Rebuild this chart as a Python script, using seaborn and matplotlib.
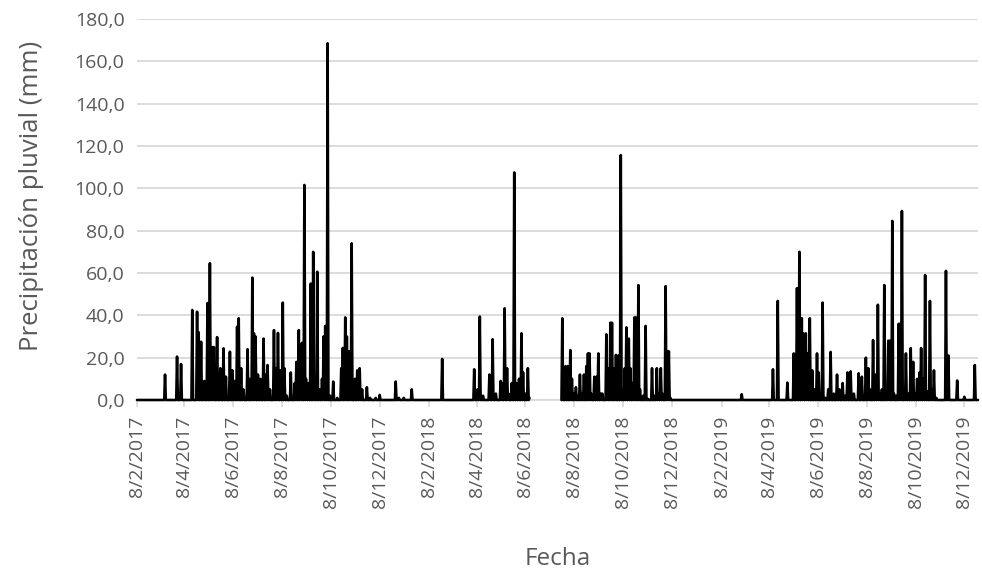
import numpy as np
import pandas as pd
import matplotlib
matplotlib.use("Agg")
import matplotlib.pyplot as plt
import matplotlib.dates as mdates
from matplotlib.ticker import FuncFormatter
import seaborn as sns

# ---------------- data ----------------
start_date = "2017-02-08"
end_date = "2019-12-25"
# period without records
gap_start = "2018-06-14"
gap_end = "2018-07-22"

rain_dates_2017 = [
    "2017-03-15", "2017-03-30", "2017-04-04", "2017-04-18", "2017-04-24", "2017-04-26",
    "2017-04-29", "2017-05-03", "2017-05-07", "2017-05-10", "2017-05-13", "2017-05-15",
    "2017-05-19", "2017-05-23", "2017-05-27", "2017-05-30", "2017-06-04", "2017-06-07",
    "2017-06-10", "2017-06-13", "2017-06-15", "2017-06-18", "2017-06-21", "2017-06-26",
    "2017-06-28", "2017-07-02", "2017-07-04", "2017-07-06", "2017-07-09", "2017-07-12",
    "2017-07-16", "2017-07-19", "2017-07-21", "2017-07-24", "2017-07-29", "2017-08-01",
    "2017-08-03", "2017-08-06", "2017-08-09", "2017-08-11", "2017-08-14", "2017-08-19",
    "2017-08-24", "2017-08-26", "2017-08-29", "2017-08-31", "2017-09-02", "2017-09-05",
    "2017-09-07", "2017-09-10", "2017-09-13", "2017-09-16", "2017-09-18", "2017-09-21",
    "2017-09-24", "2017-09-27", "2017-09-29", "2017-10-01", "2017-10-04", "2017-10-07",
    "2017-10-11", "2017-10-16", "2017-10-21", "2017-10-23", "2017-10-26", "2017-10-28",
    "2017-10-31", "2017-11-03", "2017-11-07", "2017-11-10", "2017-11-13", "2017-11-16",
    "2017-11-22", "2017-11-26", "2017-12-03", "2017-12-08", "2017-12-28",
]
rain_values_2017 = [
    12.0, 20.5, 17.0, 42.5, 41.7, 32.0,
    27.5, 9.0, 45.8, 64.6, 25.0, 25.0,
    29.7, 15.0, 24.4, 11.0, 22.8, 14.0,
    9.0, 34.6, 38.6, 15.0, 5.0, 24.0,
    10.0, 57.8, 31.5, 30.0, 12.0, 10.0,
    29.0, 12.0, 16.5, 5.0, 33.0, 15.0,
    31.7, 14.0, 46.0, 15.0, 2.0, 13.0,
    8.0, 18.0, 33.0, 25.0, 27.0, 101.6,
    10.0, 8.0, 55.0, 70.0, 10.0, 60.6,
    5.0, 10.0, 30.0, 35.0, 168.5, 2.0,
    8.7, 1.0, 15.0, 24.6, 39.0, 30.0,
    23.0, 74.0, 10.0, 14.0, 15.0, 5.0,
    6.0, 1.0, 1.0, 2.4, 8.7,
]

rain_dates_2018 = [
    "2018-01-01", "2018-01-07", "2018-01-17", "2018-02-24",
    "2018-04-05", "2018-04-09", "2018-04-12", "2018-04-16", "2018-04-24", "2018-04-28",
    "2018-05-02", "2018-05-08", "2018-05-10", "2018-05-13", "2018-05-16", "2018-05-18",
    "2018-05-22", "2018-05-25", "2018-05-28", "2018-05-31", "2018-06-03", "2018-06-05",
    "2018-06-08", "2018-06-11", "2018-06-13",
    "2018-07-24", "2018-07-28", "2018-07-31", "2018-08-03", "2018-08-05", "2018-08-08",
    "2018-08-10", "2018-08-13", "2018-08-15", "2018-08-18", "2018-08-20", "2018-08-23",
    "2018-08-25", "2018-08-27", "2018-08-29", "2018-09-02", "2018-09-05", "2018-09-07",
    "2018-09-10", "2018-09-12", "2018-09-17", "2018-09-19", "2018-09-22", "2018-09-24",
    "2018-09-27", "2018-09-29", "2018-10-02", "2018-10-05", "2018-10-07", "2018-10-10",
    "2018-10-12", "2018-10-15", "2018-10-17", "2018-10-20", "2018-10-22", "2018-10-24",
    "2018-10-27", "2018-10-29", "2018-11-02", "2018-11-05", "2018-11-08", "2018-11-13",
    "2018-11-16", "2018-11-19", "2018-11-21", "2018-11-24", "2018-11-26", "2018-11-30",
    "2018-12-02", "2018-12-04", "2018-12-06",
]
rain_values_2018 = [
    1.0, 1.0, 5.0, 19.4,
    14.5, 5.0, 39.4, 2.0, 12.0, 28.7,
    3.0, 9.0, 8.0, 43.3, 15.0, 3.0,
    8.0, 107.5, 8.0, 10.0, 31.5, 13.0,
    3.0, 15.0, 1.0,
    38.6, 16.0, 16.0, 23.6, 10.0, 3.0,
    6.0, 2.0, 12.0, 3.0, 12.0, 16.0,
    22.0, 22.0, 3.0, 11.0, 11.0, 22.0,
    3.0, 3.0, 31.0, 15.0, 36.5, 36.5,
    15.0, 21.3, 21.0, 115.7, 5.0, 15.0,
    34.3, 29.0, 15.0, 8.0, 39.0, 39.0,
    54.3, 5.0, 2.0, 35.0, 0.5, 15.0,
    2.0, 15.0, 3.0, 15.0, 3.0, 53.8,
    23.0, 23.0, 1.0,
]

rain_dates_2019 = [
    "2019-03-05", "2019-04-13", "2019-04-19", "2019-05-01", "2019-05-09", "2019-05-13",
    "2019-05-16", "2019-05-19", "2019-05-21", "2019-05-24", "2019-05-26", "2019-05-29",
    "2019-06-01", "2019-06-04", "2019-06-07", "2019-06-09", "2019-06-14", "2019-06-17",
    "2019-06-21", "2019-06-24", "2019-06-28", "2019-07-02", "2019-07-05", "2019-07-09",
    "2019-07-12", "2019-07-15", "2019-07-19", "2019-07-23", "2019-07-29", "2019-08-02",
    "2019-08-07", "2019-08-10", "2019-08-12", "2019-08-16", "2019-08-19", "2019-08-22",
    "2019-08-24", "2019-08-27", "2019-08-30", "2019-09-02", "2019-09-04", "2019-09-06",
    "2019-09-09", "2019-09-11", "2019-09-14", "2019-09-17", "2019-09-19", "2019-09-21",
    "2019-09-24", "2019-09-26", "2019-09-29", "2019-10-02", "2019-10-05", "2019-10-08",
    "2019-10-10", "2019-10-13", "2019-10-15", "2019-10-18", "2019-10-20", "2019-10-23",
    "2019-10-26", "2019-10-28", "2019-10-31", "2019-11-03", "2019-11-15", "2019-11-18",
    "2019-11-29", "2019-12-08", "2019-12-21",
]
rain_values_2019 = [
    2.7, 14.5, 46.8, 8.2, 22.0, 52.8,
    70.0, 38.6, 31.5, 31.5, 22.0, 38.6,
    14.0, 5.0, 22.0, 13.0, 46.0, 1.0,
    5.0, 22.7, 3.0, 12.0, 5.0, 8.0,
    2.0, 13.0, 13.5, 3.0, 12.6, 11.0,
    20.0, 15.0, 5.0, 28.3, 12.0, 45.0,
    3.0, 5.0, 54.3, 5.0, 28.0, 28.0,
    84.6, 3.0, 2.0, 36.0, 36.0, 89.3,
    5.0, 22.0, 3.0, 24.5, 18.0, 3.0,
    10.0, 13.0, 24.5, 10.0, 59.0, 4.0,
    46.8, 5.0, 14.0, 1.0, 61.0, 21.0,
    9.2, 1.5, 16.5,
]

tick_labels = [
    "8/2/2017", "8/4/2017", "8/6/2017", "8/8/2017", "8/10/2017", "8/12/2017",
    "8/2/2018", "8/4/2018", "8/6/2018", "8/8/2018", "8/10/2018", "8/12/2018",
    "8/2/2019", "8/4/2019", "8/6/2019", "8/8/2019", "8/10/2019", "8/12/2019",
]
y_ticks = [0, 20, 40, 60, 80, 100, 120, 140, 160, 180]

# ---------------- build the daily table ----------------
days = pd.date_range(start_date, end_date, freq="D")
serie = pd.Series(0.0, index=days)
ev = pd.Series(
    rain_values_2017 + rain_values_2018 + rain_values_2019,
    index=pd.to_datetime(rain_dates_2017 + rain_dates_2018 + rain_dates_2019),
)
serie.loc[ev.index] = ev.values
df = pd.DataFrame({"fecha": days, "pp": serie.values})
df["tramo"] = np.where(df["fecha"] > pd.Timestamp(gap_end), 2, 1)
mask_gap = (df["fecha"] >= pd.Timestamp(gap_start)) & (df["fecha"] <= pd.Timestamp(gap_end))
df = df[~mask_gap]

# ---------------- plot ----------------
sns.set_theme(style="white")
plt.rcParams["font.family"] = ["Open Sans", "DejaVu Sans"]
txt = "#595959"

fig = plt.figure(figsize=(9.82, 5.81), dpi=100)
ax = fig.add_axes([137 / 982, 1 - 400 / 581, 841 / 982, 381 / 581])

sns.lineplot(data=df, x="fecha", y="pp", units="tramo", estimator=None,
             color="black", linewidth=1.9, ax=ax, legend=False)
for ln in ax.lines:
    ln.set_clip_on(False)
    ln.set_zorder(3)

ax.set_ylim(0, 180)
ax.set_xlim(pd.Timestamp(start_date), pd.Timestamp(end_date))
ax.set_yticks(y_ticks)
ax.yaxis.set_major_formatter(FuncFormatter(lambda v, p: f"{v:.1f}".replace(".", ",")))
ax.grid(axis="y", color="#d9d9d9", linewidth=1.3)
ax.set_axisbelow(True)

tick_dates = [pd.Timestamp(year=int(s.split("/")[2]), month=int(s.split("/")[1]),
                           day=int(s.split("/")[0])) for s in tick_labels]
ax.set_xticks([mdates.date2num(d) for d in tick_dates])
ax.set_xticklabels(tick_labels, rotation=90, ha="center", va="top")

for s in ["top", "right", "left"]:
    ax.spines[s].set_visible(False)
ax.spines["bottom"].set_color("#d9d9d9")
ax.spines["bottom"].set_linewidth(1.3)
ax.spines["bottom"].set_zorder(1)

ax.tick_params(axis="y", length=0, pad=9, labelsize=14, labelcolor=txt)
ax.tick_params(axis="x", length=5, width=1.2, color="#d9d9d9", pad=6,
               labelsize=14, labelcolor=txt, bottom=True)

ax.set_xlabel("Fecha", fontsize=17.5, color=txt, va="top")
ax.xaxis.set_label_coords(0.5, -0.385)
ax.set_ylabel("Precipitación pluvial (mm)", fontsize=18.5, color=txt, va="center")
ax.yaxis.set_label_coords(-0.125, 0.535)

fig.savefig("out.png", dpi=100)
